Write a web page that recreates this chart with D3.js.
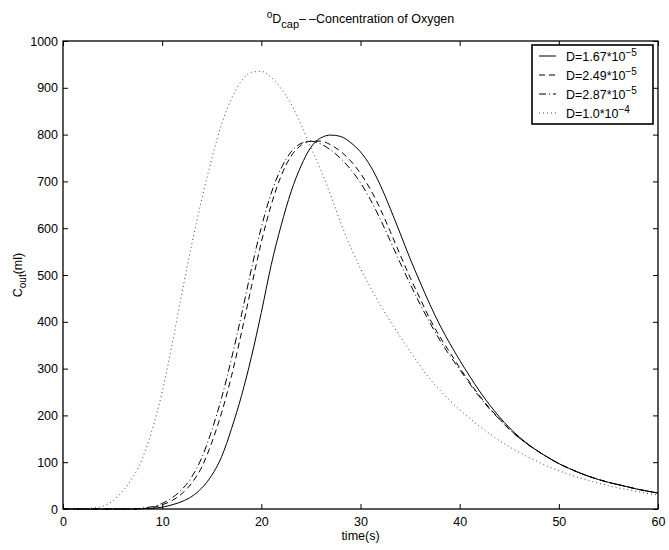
<!DOCTYPE html>
<html>
<head>
<meta charset="UTF-8">
<script src="https://cdn.jsdelivr.net/npm/d3@7"></script>
<style>
  body { margin: 0; background: #fff; }
  text { font-family: "Liberation Sans", Arial, Helvetica, sans-serif; fill: #000; }
</style>
</head>
<body>
<svg id="chart" width="669" height="550"></svg>
<script>
  // time axis, one sample per second
  var times = d3.range(0, 61);

  // D = 1.67*10^-5
  var d167 = [0, 0, 0, 0, 0, 0, 0, 0, 0.5, 1.5, 4, 9, 16, 27, 45, 72, 112, 172, 242, 325,
    420, 522, 606, 678, 733, 773, 793, 799, 796, 783, 763, 733, 692, 642, 589, 535, 485, 437, 393, 354,
    318, 284, 252, 223, 197, 174, 154, 137, 122, 109, 97, 87, 78, 70, 63, 57, 52, 47, 42, 38, 34];
  // D = 2.49*10^-5
  var d249 = [0, 0, 0, 0, 0, 0, 0, 0, 1, 3, 9, 18, 33, 56, 90, 142, 206, 285, 377, 475,
    570, 650, 712, 754, 777, 786, 786, 778, 764, 744, 717, 683, 641, 593, 543, 495, 450, 406, 368, 335,
    302, 271, 242, 216, 193, 171, 152, 136, 122, 109, 97, 87, 78, 70, 63, 57, 52, 47, 42, 38, 34];
  // D = 2.87*10^-5
  var d287 = [0, 0, 0, 0, 0, 0, 0, 0, 2, 5, 12, 24, 42, 69, 110, 168, 238, 322, 415, 513,
    602, 675, 728, 763, 781, 786, 780, 767, 749, 726, 697, 661, 619, 573, 526, 481, 438, 398, 361, 328,
    298, 268, 240, 214, 192, 170, 152, 136, 122, 109, 97, 87, 78, 70, 63, 57, 52, 47, 42, 38, 34];
  // D = 1.0*10^-4
  var d100 = [0, 0, 0, 2, 6, 17, 38, 66, 108, 170, 250, 352, 462, 567, 663, 748, 823, 877, 915, 933,
    935, 922, 898, 866, 822, 772, 724, 670, 612, 560, 514, 473, 436, 401, 368, 337, 306, 278, 254, 232,
    212, 194, 177, 161, 146, 133, 121, 110, 100, 90, 82, 74, 67, 61, 55, 50, 45, 41, 37, 33, 30];

  var legendMant = ['1.67', '2.49', '2.87', '1.0'];
  var legendExp = ['\u22125', '\u22125', '\u22125', '\u22124'];
  var xTicks = [0, 10, 20, 30, 40, 50, 60];
  var yTicks = d3.range(0, 1001, 100);

  var series = [
    { vals: d167, dash: null, color: '#000' },
    { vals: d249, dash: '6,4', color: '#000' },
    { vals: d287, dash: '7,3,1,3', color: '#000' },
    { vals: d100, dash: '1,3', color: '#444' }
  ];

  var svg = d3.select('#chart');
  var plotLeft = 63, plotRight = 658, plotTop = 41, plotBottom = 509;
  var fs = '12.5px', fsSmall = '10px';

  var x = d3.scaleLinear().domain([0, 60]).range([plotLeft, plotRight]);
  var y = d3.scaleLinear().domain([0, 1000]).range([plotBottom, plotTop]);

  // axes, ticks pointing inward on all four sides
  function styleAxis(g) {
    g.select('.domain').remove();
    g.selectAll('line').attr('stroke', '#000');
    g.selectAll('text').style('font-size', fs).attr('fill', '#000');
  }

  svg.append('g').attr('transform', 'translate(0,' + plotBottom + ')')
    .call(d3.axisBottom(x).tickValues(xTicks).tickSize(-5).tickPadding(8).tickFormat(d3.format('d')))
    .call(styleAxis);
  svg.append('g').attr('transform', 'translate(0,' + plotTop + ')')
    .call(d3.axisTop(x).tickValues(xTicks).tickSize(-5).tickFormat(''))
    .call(styleAxis);
  svg.append('g').attr('transform', 'translate(' + plotLeft + ',0)')
    .call(d3.axisLeft(y).tickValues(yTicks).tickSize(-5).tickPadding(5).tickFormat(d3.format('d')))
    .call(styleAxis);
  svg.append('g').attr('transform', 'translate(' + plotRight + ',0)')
    .call(d3.axisRight(y).tickValues(yTicks).tickSize(-5).tickFormat(''))
    .call(styleAxis);

  var line = d3.line()
    .x(function (d, i) { return x(times[i]); })
    .y(function (d) { return y(d); })
    .curve(d3.curveMonotoneX);

  svg.selectAll('path.curve')
    .data(series)
    .enter()
    .append('path')
    .attr('class', 'curve')
    .attr('fill', 'none')
    .attr('stroke', function (d) { return d.color; })
    .attr('stroke-width', 1)
    .attr('stroke-dasharray', function (d) { return d.dash; })
    .attr('d', function (d) { return line(d.vals); });

  // frame
  svg.append('rect')
    .attr('x', plotLeft).attr('y', plotTop)
    .attr('width', plotRight - plotLeft).attr('height', plotBottom - plotTop)
    .attr('fill', 'none').attr('stroke', '#000').attr('stroke-width', 1.3);

  // title
  var title = svg.append('text')
    .attr('x', (plotLeft + plotRight) / 2).attr('y', 23)
    .attr('text-anchor', 'middle')
    .style('font-size', fs);
  title.append('tspan').text('o').style('font-size', fsSmall).attr('dy', -5);
  title.append('tspan').text('D').attr('dy', 5);
  title.append('tspan').text('cap').style('font-size', '11px').attr('dy', 5);
  title.append('tspan').text('\u2013').attr('dy', -5).style('letter-spacing', '3px');
  title.append('tspan').text('\u2013Concentration of Oxygen');

  // axis labels
  svg.append('text')
    .attr('x', (plotLeft + plotRight) / 2).attr('y', 540)
    .attr('text-anchor', 'middle')
    .style('font-size', fs)
    .text('time(s)');

  var yl = svg.append('text')
    .attr('transform', 'translate(22,' + ((plotTop + plotBottom) / 2) + ') rotate(-90)')
    .attr('text-anchor', 'middle')
    .style('font-size', fs);
  yl.append('tspan').text('C');
  yl.append('tspan').text('out').style('font-size', fsSmall).attr('dy', 4);
  yl.append('tspan').text('(ml)').attr('dy', -4);

  // legend
  var lg = svg.append('g').attr('transform', 'translate(532,45)');
  lg.append('rect')
    .attr('width', 121).attr('height', 79)
    .attr('fill', '#fff').attr('stroke', '#000').attr('stroke-width', 1.6);

  var rows = lg.selectAll('g.row')
    .data(series)
    .enter()
    .append('g')
    .attr('class', 'row')
    .attr('transform', function (d, i) { return 'translate(0,' + (11 + i * 19) + ')'; });

  rows.append('line')
    .attr('x1', 7).attr('x2', 24)
    .attr('stroke', function (d) { return d.color; }).attr('stroke-width', 1)
    .attr('stroke-dasharray', function (d) { return d.dash; });

  var lt = rows.append('text')
    .attr('x', 34).attr('y', 5)
    .style('font-size', fs);
  lt.append('tspan').text(function (d, i) { return 'D=' + legendMant[i] + '*10'; });
  lt.append('tspan').text(function (d, i) { return legendExp[i]; })
    .style('font-size', fsSmall).attr('dy', -5);
</script>
</body>
</html>
